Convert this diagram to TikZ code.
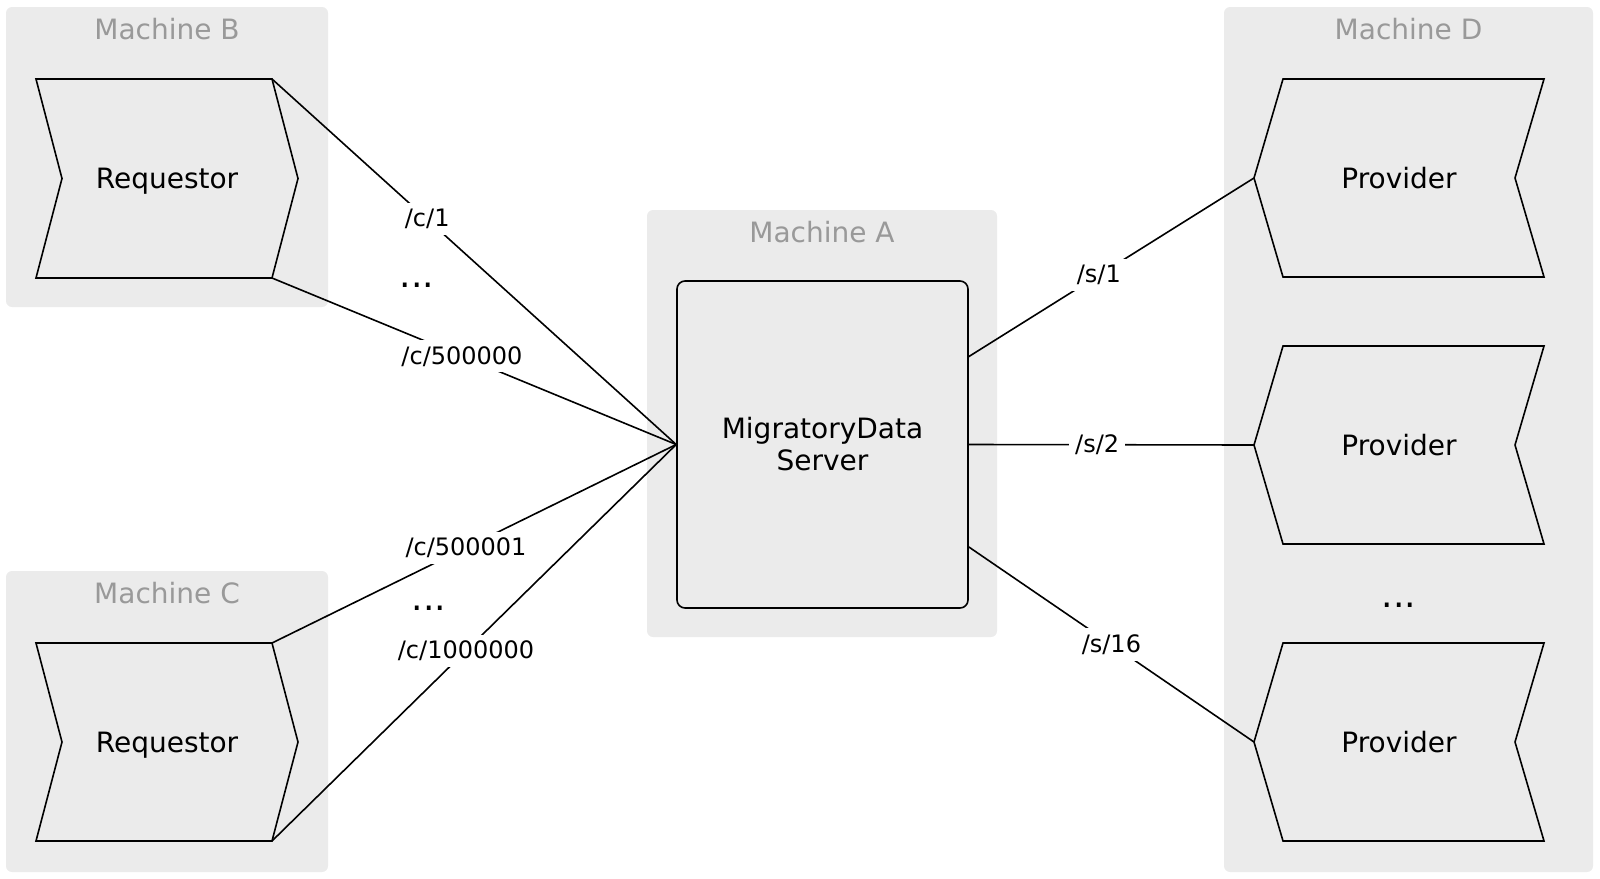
\documentclass[tikz,border=0pt]{standalone}
\usepackage{fontspec}
\setmainfont{DejaVu Sans}
\usetikzlibrary{positioning}
\definecolor{panelgray}{HTML}{EBEBEB}
\definecolor{titlegray}{HTML}{999999}
\pgfdeclarelayer{back}
\pgfdeclarelayer{mid}
\pgfsetlayers{back,mid,main}

% chevron outlines drawn behind a named node, #2 = depth of tip/notch
\newcommand\reqchevron[2]{%
  \begin{pgfonlayer}{mid}
    \draw[agentline] (#1.north west) -- ([xshift=-#2]#1.north east) coordinate (#1-ne)
      -- (#1.east) -- ([xshift=-#2]#1.south east) coordinate (#1-se)
      -- (#1.south west) -- ([xshift=#2]#1.west) -- cycle;
  \end{pgfonlayer}}
\newcommand\provchevron[2]{%
  \begin{pgfonlayer}{mid}
    \draw[agentline] (#1.west) -- ([xshift=#2]#1.north west)
      -- (#1.north east) -- ([xshift=-#2]#1.east)
      -- (#1.south east) -- ([xshift=#2]#1.south west) -- cycle;
  \end{pgfonlayer}}

\begin{document}
\begin{tikzpicture}[
      x=0.5pt, y=-0.5pt,
      every node/.style={font=\fontsize{14}{16}\selectfont, align=center},
      panel/.style={rectangle, rounded corners=3pt, fill=panelgray},
      mtitle/.style={text=titlegray, inner sep=2pt},
      agent/.style={rectangle, outer sep=0pt},
      agentline/.style={draw, line width=0.8pt, fill=panelgray},
      server/.style={rectangle, rounded corners=4pt, draw, line width=0.8pt,
            fill=panelgray},
      elabel/.style={font=\fontsize{12}{14}\selectfont, fill=white, inner sep=3pt},
      dots/.style={font=\fontsize{18}{20}\selectfont, inner sep=0pt},
      link/.style={line width=0.8pt}
]
\useasboundingbox (0,0) rectangle (1600,878);

% machines
\begin{pgfonlayer}{back}
\node[panel, minimum width=161pt, minimum height=150pt] (machB) at (167,157) {};
\node[panel, minimum width=161pt, minimum height=150.5pt] (machC) at (167,721.5) {};
\node[panel, minimum width=175pt, minimum height=213.5pt] (machA) at (822,423.5) {};
\node[panel, minimum width=184.5pt, minimum height=432.5pt] (machD) at (1408.5,439.5) {};
\end{pgfonlayer}
\node[mtitle, below=3.4pt of machB.north] (titleB) {Machine B};
\node[mtitle, below=3.4pt of machC.north] (titleC) {Machine C};
\node[mtitle, below=3.4pt of machA.north] (titleA) {Machine A};
\node[mtitle, below=3.4pt of machD.north] (titleD) {Machine D};

% server
\node[server, minimum width=145.5pt, minimum height=163.5pt] (server)
      at (822.5,444.5) {MigratoryData\\Server};

% requestors and providers
\node[agent, text depth=0pt, minimum width=131pt, minimum height=99.5pt] (reqB)
      at (167,178.5) {Requestor};
\reqchevron{reqB}{13pt}
\node[agent, text depth=0pt, minimum width=131pt, minimum height=99pt] (reqC)
      at (167,742) {Requestor};
\reqchevron{reqC}{13pt}
\node[agent, minimum width=145pt, minimum height=99pt] (prov1) at (1399,178) {Provider};
\provchevron{prov1}{14.5pt}
\node[agent, minimum width=145pt, minimum height=99pt] (prov2) at (1399,445) {Provider};
\provchevron{prov2}{14.5pt}
\node[agent, minimum width=145pt, minimum height=99pt] (prov3) at (1399,742) {Provider};
\provchevron{prov3}{14.5pt}

\node[dots] (dotsB) at (417,285) {...};
\node[dots] (dotsC) at (429,608) {...};
\node[dots] (dotsD) at (1399,605) {...};

% subscriptions
\draw[link] (reqB-ne) -- node[elabel, pos=.384] {/c/1} (server.west);
\draw[link] (reqB-se) -- node[elabel, pos=.47] {/c/500000} (server.west);
\draw[link] (reqC-ne) -- node[elabel, pos=.48] {/c/500001} (server.west);
\draw[link] (reqC-se) -- node[elabel, pos=.48] {/c/1000000} (server.west);
\draw[link] (server.31) -- node[elabel, pos=.456] {/s/1} (prov1.west);
\draw[link] (server.east) -- node[elabel, pos=.45] {/s/2} (prov2.west);
\draw[link] (server.-35) -- node[elabel, pos=.5] {/s/16} (prov3.west);
\end{tikzpicture}
\end{document}
